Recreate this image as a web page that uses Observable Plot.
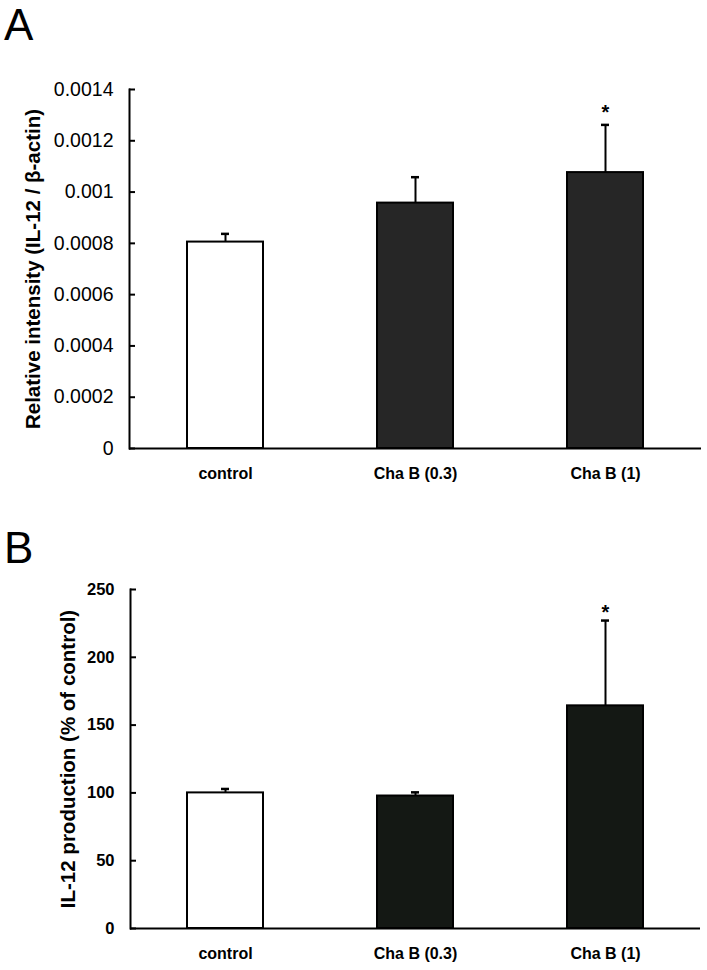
<!DOCTYPE html>
<html>
<head>
<meta charset="utf-8">
<script src="https://cdn.jsdelivr.net/npm/d3@7"></script>
<script src="https://cdn.jsdelivr.net/npm/@observablehq/plot@0.6"></script>
<style>
  html, body { margin: 0; padding: 0; background: #fff; }
  body { width: 707px; height: 970px; position: relative; overflow: hidden; font-family: "Liberation Sans", Arial, sans-serif; }
  .panel { position: absolute; left: 0; }
  #letters { position: absolute; left: 0; top: 0; z-index: 2; pointer-events: none; }
</style>
</head>
<body>
<div id="a" class="panel" style="top:0"></div>
<div id="b" class="panel" style="top:480px"></div>
<svg id="letters" width="707" height="970" font-family="'Liberation Sans', Arial, sans-serif" font-size="44">
  <text x="4" y="40">A</text>
  <text x="4" y="563">B</text>
</svg>
<script>
// ---- data ----
const categories = ["control", "Cha B (0.3)", "Cha B (1)"];
const relIntensity = [0.000805, 0.000957, 0.001076];
const relIntensityErr = [0.000032, 0.000101, 0.000186];
const il12Production = [100, 97.7, 164.2];
const il12Err = [2.9, 2.7, 62.9];
const significance = ["", "", "*"];
const ticksA = [0, 0.0002, 0.0004, 0.0006, 0.0008, 0.001, 0.0012, 0.0014];
const ticksB = [0, 50, 100, 150, 200, 250];
const titleA = "Relative intensity (IL-12 / \u03b2-actin)";
const titleB = "IL-12 production (% of control)";

function makeChart({values, errs, ticks, domain, fmt, title, dark, tickWeight, tickFont, mt, ml, mr, titleDx, titleFont, starDy}) {
  const rows = categories.map((c, i) => ({cat: c, v: values[i], e: errs[i], s: significance[i]}));
  return Plot.plot({
    width: 707, height: 490,
    marginTop: mt, marginBottom: 42, marginLeft: ml, marginRight: mr,
    style: {fontFamily: "'Liberation Sans', Arial, sans-serif", color: "#000", background: "transparent"},
    x: {domain: categories, paddingInner: 0.6, paddingOuter: 0.3, label: null},
    y: {domain, label: null},
    marks: [
      Plot.barY(rows, {x: "cat", y: "v", fill: d => d.cat === "control" ? "#ffffff" : dark, stroke: "#000", strokeWidth: 2}),
      Plot.ruleX(rows, {x: "cat", y1: "v", y2: d => d.v + d.e, stroke: "#000", strokeWidth: 2}),
      Plot.tickY(rows, {x: "cat", y: d => d.v + d.e, stroke: "#000", strokeWidth: 2.5, inset: 34}),
      Plot.text(rows, {x: "cat", y: d => d.v + d.e, text: "s", dy: starDy, fontSize: 20, fontWeight: "bold"}),
      Plot.ruleY([0], {stroke: "#000", strokeWidth: 2}),
      Plot.frame({anchor: "left", stroke: "#000", strokeWidth: 2}),
      Plot.axisY({ticks, tickSize: 6, dx: 6, text: null, label: null, stroke: "#000", strokeWidth: 2, strokeOpacity: 1}),
      Plot.axisY({ticks, tickSize: 0, tickPadding: 16, tickFormat: fmt, label: null, fontSize: tickFont, fontWeight: tickWeight}),
      Plot.axisX({tickSize: 0, tickPadding: 19, label: null, fontSize: 16, fontWeight: "bold"}),
      Plot.text([title], {frameAnchor: "left", textAnchor: "middle", rotate: -90, dx: titleDx, fontSize: titleFont, fontWeight: "bold"})
    ]
  });
}

document.getElementById("a").append(makeChart({
  values: relIntensity, errs: relIntensityErr, ticks: ticksA, domain: [0, 0.0014],
  fmt: d => String(+d.toFixed(4)), title: titleA, dark: "#262626", tickWeight: "normal", tickFont: 19.5,
  mt: 89, ml: 129, mr: 6, titleDx: -96, titleFont: 20.5, starDy: -12
}));
document.getElementById("b").append(makeChart({
  values: il12Production, errs: il12Err, ticks: ticksB, domain: [0, 250],
  fmt: d => String(d), title: titleB, dark: "#141814", tickWeight: "bold", tickFont: 16.5,
  mt: 109, ml: 130, mr: 7, titleDx: -62, titleFont: 20.5, starDy: -8
}));
</script>
</body>
</html>
